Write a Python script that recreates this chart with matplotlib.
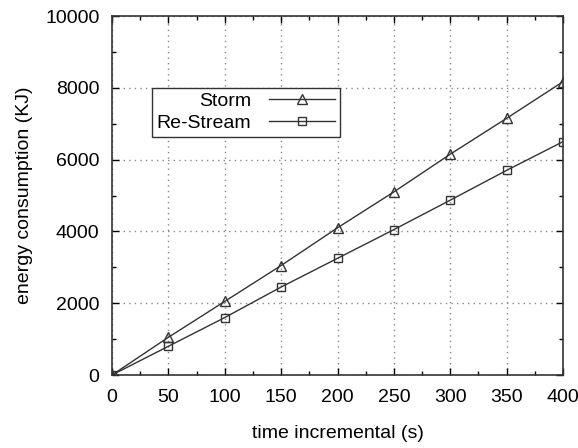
import numpy as np
import matplotlib.pyplot as plt
from matplotlib.ticker import MultipleLocator

time_s = [0, 50, 100, 150, 200, 250, 300, 350, 400]
storm = [0, 1050, 2050, 3050, 4100, 5100, 6150, 7150, 8170]
restream = [0, 800, 1600, 2450, 3250, 4050, 4870, 5700, 6500]

plt.rcParams["font.family"] = ["Liberation Sans", "DejaVu Sans"]
plt.rcParams["font.size"] = 14

fig = plt.figure(figsize=(5.78, 4.48), dpi=100)
ax = fig.add_axes([112 / 578, 1 - 375 / 448, 451 / 578, 359 / 448])

ax.plot(time_s, storm, "-^", color="#333333", lw=1, ms=7, mfc="none", mew=1, label="Storm")
ax.plot(time_s, restream, "-s", color="#333333", lw=1, ms=6, mfc="none", mew=1, label="Re-Stream")

ax.set_xlim(0, 400)
ax.set_ylim(0, 10000)
ax.xaxis.set_major_locator(MultipleLocator(50))
ax.xaxis.set_minor_locator(MultipleLocator(25))
ax.yaxis.set_major_locator(MultipleLocator(2000))
ax.yaxis.set_minor_locator(MultipleLocator(1000))
ax.tick_params(which="both", direction="in", top=True, right=True, width=1)
ax.tick_params(which="major", length=5)
ax.tick_params(which="minor", length=3)
ax.tick_params(axis="x", which="major", pad=10)
ax.tick_params(axis="y", which="major", pad=9)
ax.grid(True, which="major", linestyle=(0, (1, 3)), color="#888888", lw=1)
for s in ax.spines.values():
    s.set_linewidth(1.2)
    s.set_color("#333333")

ax.set_xlabel("time incremental (s)", labelpad=14)
ax.set_ylabel("energy consumption (KJ)", labelpad=9)

leg = ax.legend(loc="upper left", bbox_to_anchor=(0.0887, 0.80), borderaxespad=0,
                markerfirst=False, fancybox=False, framealpha=1, edgecolor="#333333",
                handlelength=3.4, borderpad=0.25, labelspacing=0.2, handletextpad=0.9)
leg.get_frame().set_linewidth(1)
for t in leg.get_texts():
    t.set_ha("right")

fig.savefig("out.png", dpi=100)
